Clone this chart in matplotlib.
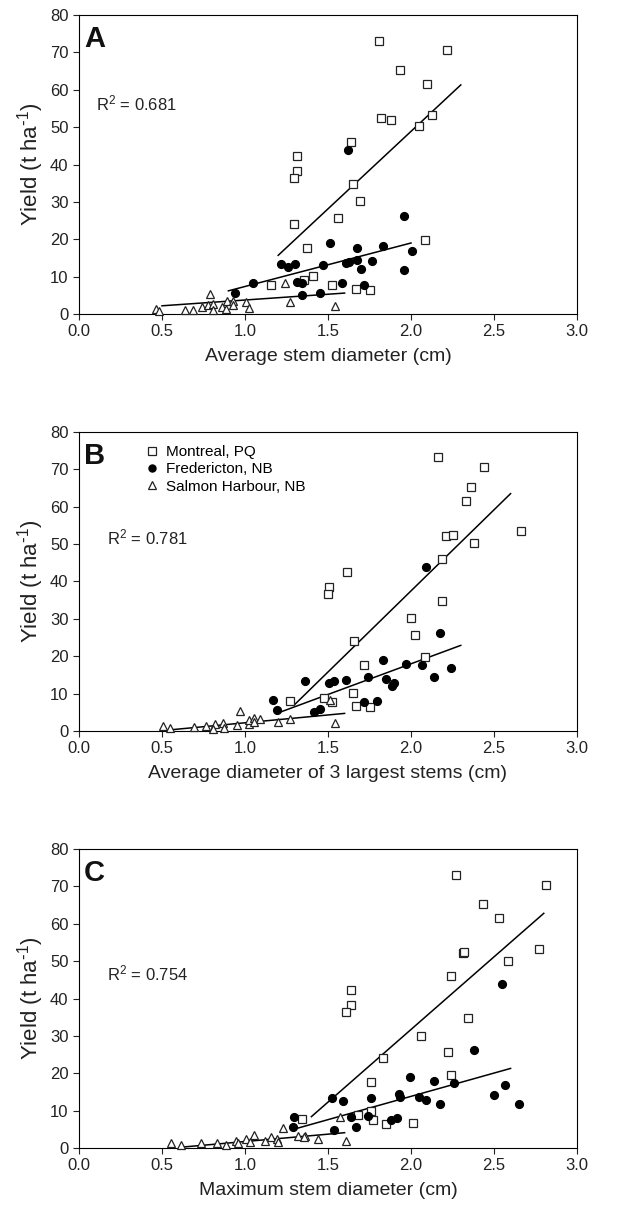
import matplotlib.pyplot as plt
import numpy as np

plt.rcParams['font.family'] = ['Liberation Sans', 'DejaVu Sans']
plt.rcParams['mathtext.default'] = 'regular'

# ---- panel A : average stem diameter ----
a_mon_x = [1.807, 2.215, 1.934, 2.098, 1.821, 1.877, 2.124, 2.048, 1.637, 1.315, 1.315, 1.297,
           1.653, 1.693, 1.558, 1.297, 1.371, 2.082, 1.155, 1.357, 1.408, 1.524, 1.671, 1.755]
a_mon_y = [73.1, 70.6, 65.2, 61.5, 52.4, 52.0, 53.3, 50.2, 46.0, 42.4, 38.3, 36.5,
           34.8, 30.2, 25.7, 24.1, 17.6, 19.7, 7.8, 9.2, 10.1, 7.7, 6.7, 6.5]
a_fre_x = [1.622, 1.956, 1.514, 1.673, 1.829, 2.008, 1.217, 1.261, 1.301, 1.468, 1.608, 1.629,
           1.673, 1.765, 1.699, 1.958, 1.048, 1.313, 1.341, 1.582, 1.719, 0.938, 1.341, 1.450]
a_fre_y = [43.8, 26.2, 19.0, 17.6, 18.1, 16.9, 13.5, 12.7, 13.4, 13.0, 13.6, 13.9,
           14.5, 14.3, 12.0, 11.7, 8.3, 8.5, 8.2, 8.2, 7.7, 5.6, 5.2, 5.7]
a_sal_x = [0.464, 0.484, 0.639, 0.685, 0.739, 0.789, 0.779, 0.809, 0.805, 0.859, 0.890, 0.886,
           0.930, 0.930, 1.004, 1.024, 1.243, 1.271, 1.542]
a_sal_y = [1.3, 0.7, 1.2, 1.2, 1.9, 5.4, 2.5, 2.8, 1.0, 2.0, 3.4, 1.3,
           3.4, 2.5, 3.2, 1.6, 8.3, 3.1, 2.2]
a_fit_mon = ([1.20, 2.30], [15.7, 61.3])
a_fit_fre = ([0.90, 2.00], [6.2, 19.0])
a_fit_sal = ([0.50, 1.60], [2.2, 5.6])

# ---- panel B : average diameter of 3 largest stems ----
b_mon_x = [2.163, 2.438, 2.359, 2.333, 2.661, 2.209, 2.255, 2.378, 2.187, 1.612, 1.504, 1.500,
           2.189, 2.000, 2.022, 1.659, 2.084, 1.719, 1.651, 1.271, 1.478, 1.524, 1.671, 1.755]
b_mon_y = [73.3, 70.7, 65.4, 61.6, 53.4, 52.1, 52.5, 50.3, 45.9, 42.5, 38.4, 36.6,
           34.9, 30.2, 25.6, 24.1, 19.7, 17.7, 10.1, 7.9, 8.9, 7.7, 6.7, 6.5]
b_fre_x = [2.088, 2.173, 1.829, 1.968, 2.066, 2.243, 1.363, 1.504, 1.536, 1.606, 1.739, 1.851,
           1.900, 1.888, 2.137, 1.167, 1.191, 1.418, 1.450, 1.719, 1.797]
b_fre_y = [43.9, 26.2, 19.0, 18.0, 17.6, 16.9, 13.5, 12.7, 13.4, 13.6, 14.5, 13.8,
           12.9, 11.9, 14.4, 8.3, 5.7, 5.1, 5.8, 7.7, 8.1]
b_sal_x = [0.504, 0.548, 0.695, 0.765, 0.819, 0.805, 0.869, 0.876, 0.954, 0.970, 1.022, 1.024,
           1.056, 1.090, 1.056, 1.201, 1.271, 1.512, 1.542]
b_sal_y = [1.2, 0.7, 1.0, 1.2, 1.9, 0.6, 2.2, 0.9, 1.6, 5.4, 1.8, 2.9,
           3.4, 3.1, 2.5, 2.4, 3.1, 8.3, 2.1]
b_fit_mon = ([1.30, 2.60], [7.1, 63.5])
b_fit_fre = ([1.21, 2.30], [5.0, 22.9])
b_fit_sal = ([0.55, 1.60], [0.3, 4.7])

# ---- panel C : maximum stem diameter ----
c_mon_x = [2.271, 2.813, 2.432, 2.532, 2.769, 2.311, 2.319, 2.582, 2.241, 1.641, 1.641, 1.610,
           2.341, 2.062, 2.221, 1.829, 2.241, 1.759, 1.683, 1.759, 1.341, 1.769, 1.849, 2.010]
c_mon_y = [73.1, 70.5, 65.2, 61.5, 53.3, 52.1, 52.4, 50.1, 45.9, 42.4, 38.3, 36.5,
           34.8, 30.1, 25.6, 24.0, 19.5, 17.6, 8.8, 10.0, 7.8, 7.6, 6.4, 6.6]
c_fre_x = [2.548, 2.377, 1.996, 2.137, 2.257, 2.568, 1.526, 1.588, 1.759, 1.928, 1.936, 2.048,
           2.088, 2.177, 2.498, 2.648, 1.297, 1.287, 1.538, 1.636, 1.667, 1.739, 1.877, 1.918]
c_fre_y = [43.8, 26.1, 18.9, 17.9, 17.5, 16.9, 13.5, 12.6, 13.5, 14.5, 13.6, 13.7,
           12.8, 11.7, 14.2, 11.9, 8.2, 5.5, 4.9, 8.2, 5.7, 8.5, 7.6, 8.0]
c_sal_x = [0.554, 0.612, 0.737, 0.829, 0.886, 0.944, 0.956, 1.004, 1.030, 1.056, 1.120, 1.157,
           1.191, 1.201, 1.231, 1.321, 1.361, 1.357, 1.442, 1.572, 1.606]
c_sal_y = [1.4, 0.8, 1.25, 1.4, 0.8, 2.0, 1.25, 2.3, 1.6, 3.4, 1.9, 2.9,
           2.3, 1.7, 5.4, 3.2, 3.2, 2.9, 2.4, 8.4, 2.0]
c_fit_mon = ([1.40, 2.80], [8.4, 62.8])
c_fit_fre = ([1.30, 2.60], [5.1, 21.3])
c_fit_sal = ([0.61, 1.60], [0.2, 4.1])

panels = [
    ('A', 'Average stem diameter (cm)', '0.681', (0.10, 56.4),
     (a_mon_x, a_mon_y), (a_fre_x, a_fre_y), (a_sal_x, a_sal_y), [a_fit_mon, a_fit_fre, a_fit_sal]),
    ('B', 'Average diameter of 3 largest stems (cm)', '0.781', (0.167, 51.9),
     (b_mon_x, b_mon_y), (b_fre_x, b_fre_y), (b_sal_x, b_sal_y), [b_fit_mon, b_fit_fre, b_fit_sal]),
    ('C', 'Maximum stem diameter (cm)', '0.754', (0.167, 46.8),
     (c_mon_x, c_mon_y), (c_fre_x, c_fre_y), (c_sal_x, c_sal_y), [c_fit_mon, c_fit_fre, c_fit_sal]),
]

fig = plt.figure(figsize=(6.29, 12.11), dpi=100)
bottoms = [0.7407, 0.3964, 0.0520]

for (letter, xlab, r2, r2pos, mon, fre, sal, fits), b in zip(panels, bottoms):
    ax = fig.add_axes([0.1256, b, 0.7917, 0.2469])
    for fx, fy in fits:
        ax.plot(fx, fy, color='k', lw=1.1, zorder=2)
    ax.plot(mon[0], mon[1], ls='none', marker='s', ms=5.8, mfc='white', mec='#222222', mew=0.9,
            label='Montreal, PQ', zorder=3, clip_on=False)
    ax.plot(fre[0], fre[1], ls='none', marker='o', ms=5.6, mfc='k', mec='k',
            label='Fredericton, NB', zorder=3, clip_on=False)
    ax.plot(sal[0], sal[1], ls='none', marker='^', ms=6.3, mfc='white', mec='#222222', mew=0.9,
            label='Salmon Harbour, NB', zorder=4, clip_on=False)

    ax.set_xlim(0, 3)
    ax.set_ylim(0, 80)
    ax.set_xticks(np.arange(0, 3.01, 0.5))
    ax.set_xticklabels(['%.1f' % t for t in np.arange(0, 3.01, 0.5)])
    ax.set_yticks(np.arange(0, 81, 10))
    ax.tick_params(direction='out', length=4.5, width=0.8, labelsize=12, pad=3, colors='#222222')
    for s in ax.spines.values():
        s.set_linewidth(0.8)
    ax.set_xlabel(xlab, fontsize=14, labelpad=6, color='#222222')
    ax.set_ylabel('Yield (t ha$^{\\text{-}1}$)', fontsize=16, labelpad=3, color='#222222')

    ax.text(0.03, 73.5, letter, fontsize=21, fontweight='bold', va='center', ha='left', color='#111111')
    ax.text(r2pos[0], r2pos[1], 'R$^2$ = ' + r2, fontsize=12, va='center', ha='left', color='#222222')

    if letter == 'B':
        ax.legend(loc='upper left', bbox_to_anchor=(0.135, 0.955), frameon=False,
                  fontsize=11, handlelength=0.8, handletextpad=0.5, labelspacing=0.2,
                  borderpad=0, borderaxespad=0, markerscale=0.9)

plt.savefig('out.png', dpi=100)
plt.close()
